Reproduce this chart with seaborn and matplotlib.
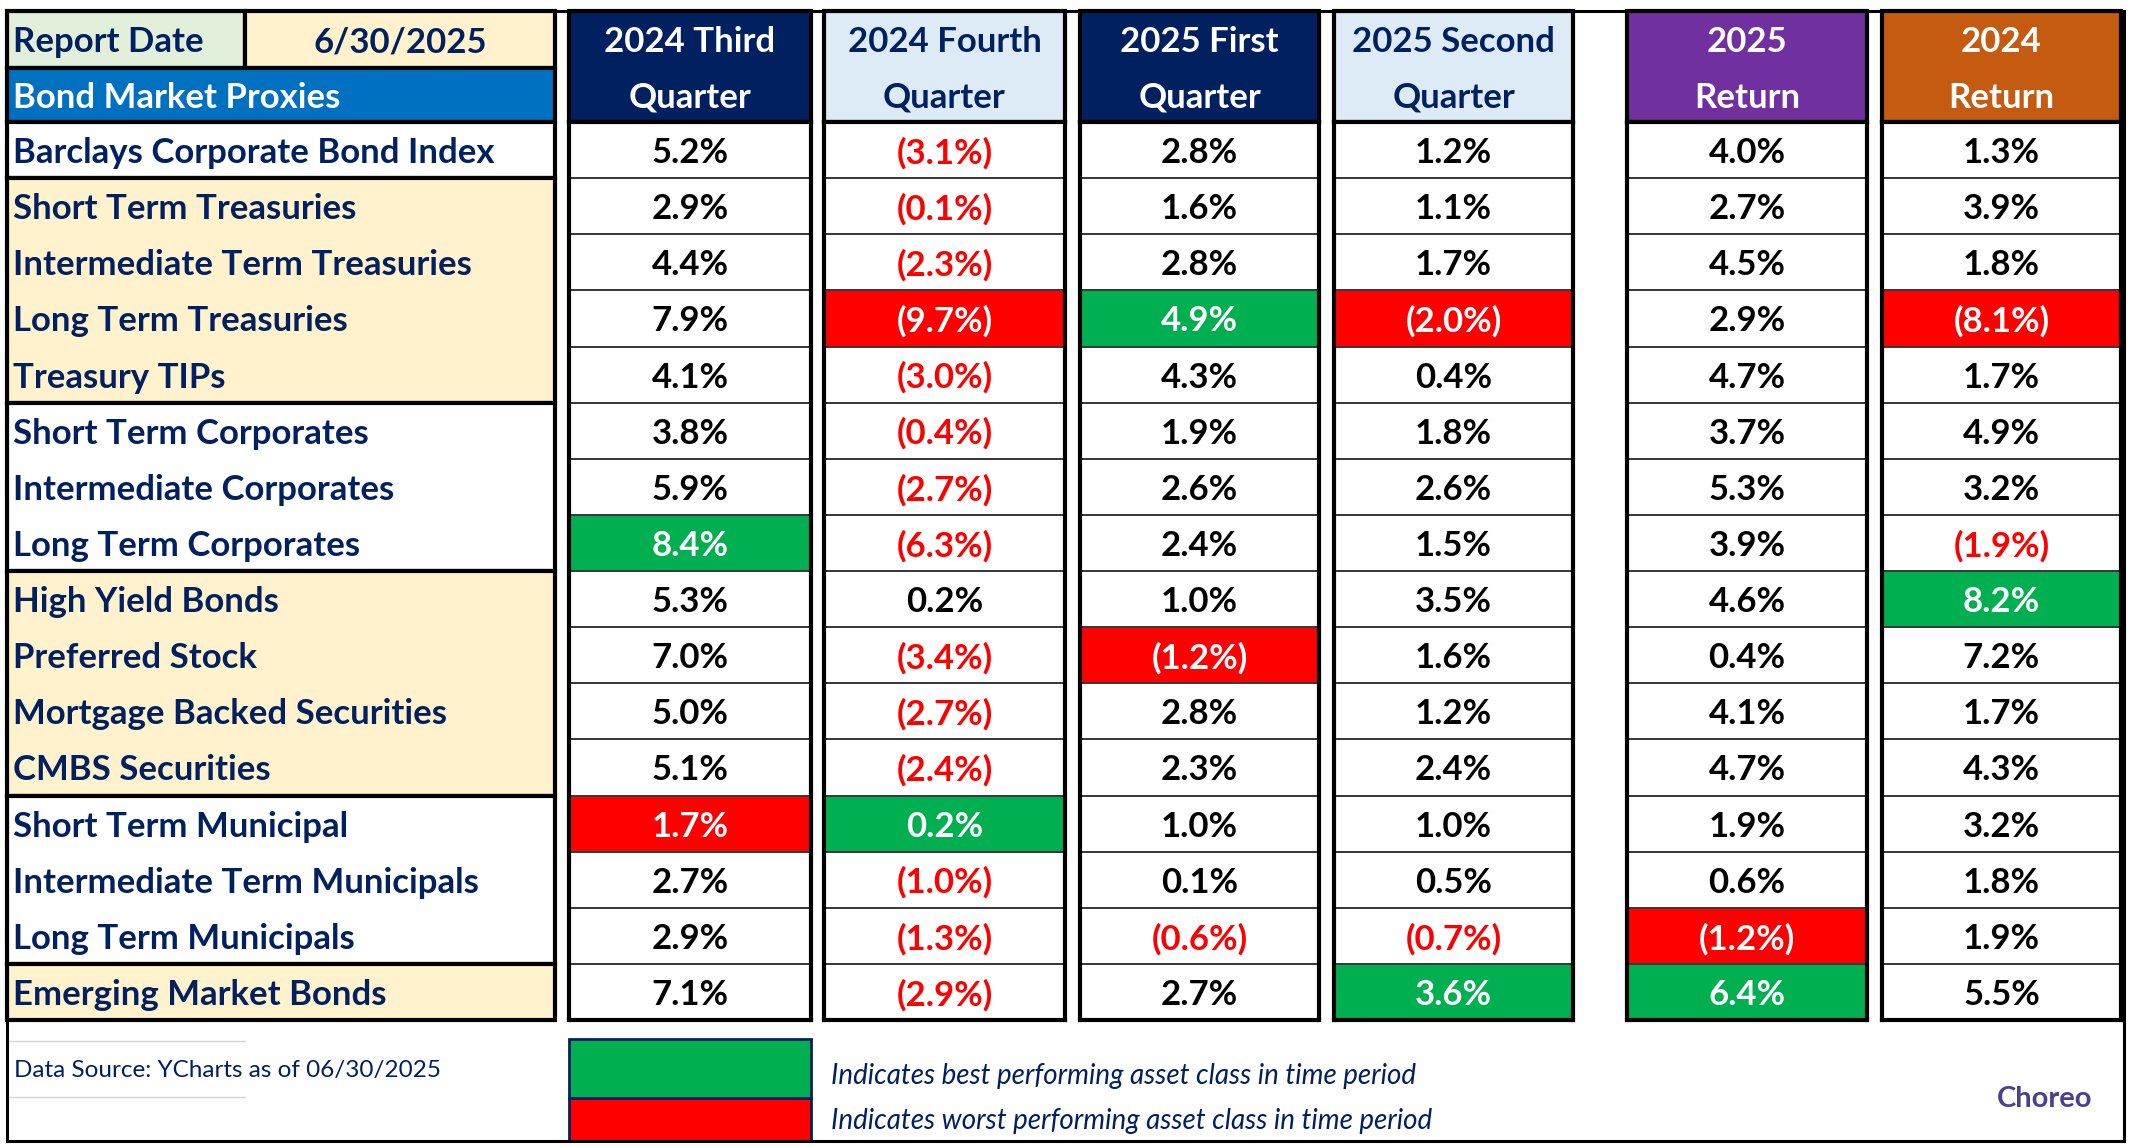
import numpy as np
import pandas as pd
import matplotlib
matplotlib.use("Agg")
import matplotlib.pyplot as plt
from matplotlib.colors import ListedColormap
from matplotlib.patches import Rectangle
import seaborn as sns

# Table content
report_date = "6/30/2025"
proxies = [
    "Barclays Corporate Bond Index",
    "Short Term Treasuries",
    "Intermediate Term Treasuries",
    "Long Term Treasuries",
    "Treasury TIPs",
    "Short Term Corporates",
    "Intermediate Corporates",
    "Long Term Corporates",
    "High Yield Bonds",
    "Preferred Stock",
    "Mortgage Backed Securities",
    "CMBS Securities",
    "Short Term Municipal",
    "Intermediate Term Municipals",
    "Long Term Municipals",
    "Emerging Market Bonds",
]
periods = ["2024 Third\nQuarter", "2024 Fourth\nQuarter", "2025 First\nQuarter",
           "2025 Second\nQuarter", "2025\nReturn", "2024\nReturn"]

q3_2024 = [5.2, 2.9, 4.4, 7.9, 4.1, 3.8, 5.9, 8.4, 5.3, 7.0, 5.0, 5.1, 1.7, 2.7, 2.9, 7.1]
q4_2024 = [-3.1, -0.1, -2.3, -9.7, -3.0, -0.4, -2.7, -6.3, 0.2, -3.4, -2.7, -2.4, 0.2, -1.0, -1.3, -2.9]
q1_2025 = [2.8, 1.6, 2.8, 4.9, 4.3, 1.9, 2.6, 2.4, 1.0, -1.2, 2.8, 2.3, 1.0, 0.1, -0.6, 2.7]
q2_2025 = [1.2, 1.1, 1.7, -2.0, 0.4, 1.8, 2.6, 1.5, 3.5, 1.6, 1.2, 2.4, 1.0, 0.5, -0.7, 3.6]
ret_2025 = [4.0, 2.7, 4.5, 2.9, 4.7, 3.7, 5.3, 3.9, 4.6, 0.4, 4.1, 4.7, 1.9, 0.6, -1.2, 6.4]
ret_2024 = [1.3, 3.9, 1.8, -8.1, 1.7, 4.9, 3.2, -1.9, 8.2, 7.2, 1.7, 4.3, 3.2, 1.8, 1.9, 5.5]

# best / worst row per period (row index into proxies)
best_row = [7, 12, 3, 15, 15, 8]
worst_row = [12, 3, 9, 3, 14, 3]

# label column shading groups: (first row, last row, shaded)
label_groups = [(0, 0, False), (1, 4, True), (5, 7, False),
                (8, 11, True), (12, 14, False), (15, 15, True)]

source_note = "Data Source: YCharts as of 06/30/2025"
legend_best = "Indicates best performing asset class in time period"
legend_worst = "Indicates worst performing asset class in time period"

# Colours
navy = "#002060"
cream = "#FFF2CC"
green = "#00B050"
red = "#FF0000"
header_face = [navy, "#DDEBF7", navy, "#DDEBF7", "#7030A0", "#C55A11"]
header_text = ["white", navy, "white", navy, "white", "white"]

# Layout in pixels
W, H = 2130, 1146
frame_l, frame_r, frame_t, frame_b = 7, 2124, 11, 1141
head_mid, data_top, data_bot = 68, 122, 1020
label_l, label_r, date_split = 7, 555, 245
col_x = [(569, 811), (824, 1065), (1080, 1319), (1334, 1573), (1627, 1867), (1882, 2121)]
row_h = (data_bot - data_top) / len(proxies)

sns.set_style("white")
plt.rcParams["font.family"] = ["Lato", "DejaVu Sans"]

fig = plt.figure(figsize=(W / 100, H / 100), dpi=100)
bg = fig.add_axes([0, 0, 1, 1])
bg.set_xlim(0, W)
bg.set_ylim(H, 0)
bg.axis("off")

lw_thick = 3.0
fs_main = 25
dy = 3  # text sits a touch below the cell centre

# outer frame
bg.add_patch(Rectangle((frame_l, frame_t), frame_r - frame_l, frame_b - frame_t,
                       fill=False, edgecolor="black", lw=2.2, zorder=5))

# report date / proxies header
bg.add_patch(Rectangle((label_l, frame_t), date_split - label_l, head_mid - frame_t,
                       facecolor="#E2EFDA", edgecolor="black", lw=lw_thick))
bg.add_patch(Rectangle((date_split, frame_t), label_r - date_split, head_mid - frame_t,
                       facecolor=cream, edgecolor="black", lw=lw_thick))
bg.add_patch(Rectangle((label_l, head_mid), label_r - label_l, data_top - head_mid,
                       facecolor="#0070C0", edgecolor="black", lw=lw_thick))
bg.text(label_l + 6, (frame_t + head_mid) / 2 + dy, "Report Date", color=navy,
        fontsize=fs_main, fontweight="bold", va="center", ha="left")
bg.text((date_split + label_r) / 2, (frame_t + head_mid) / 2 + dy, report_date, color=navy,
        fontsize=fs_main, fontweight="bold", va="center", ha="center")
bg.text(label_l + 6, (head_mid + data_top) / 2 + dy, "Bond Market Proxies", color="white",
        fontsize=fs_main, fontweight="bold", va="center", ha="left")

# label column groups
for first, last, shaded in label_groups:
    y0 = data_top + first * row_h
    y1 = data_top + (last + 1) * row_h
    bg.add_patch(Rectangle((label_l, y0), label_r - label_l, y1 - y0,
                           facecolor=cream if shaded else "white",
                           edgecolor="black", lw=lw_thick))
for i, name in enumerate(proxies):
    bg.text(label_l + 6, data_top + (i + 0.5) * row_h + dy, name, color=navy,
            fontsize=fs_main, fontweight="bold", va="center", ha="left")

# period headers
for j, (x0, x1) in enumerate(col_x):
    bg.add_patch(Rectangle((x0, frame_t), x1 - x0, data_top - frame_t,
                           facecolor=header_face[j], edgecolor="black", lw=lw_thick))
    top_line, bottom_line = periods[j].split("\n")
    bg.text((x0 + x1) / 2, (frame_t + head_mid) / 2 + dy, top_line, color=header_text[j],
            fontsize=fs_main, fontweight="bold", ha="center", va="center")
    bg.text((x0 + x1) / 2, (head_mid + data_top) / 2 + dy, bottom_line, color=header_text[j],
            fontsize=fs_main, fontweight="bold", ha="center", va="center")

# data columns, one heatmap per period
df = pd.DataFrame({"q3_2024": q3_2024, "q4_2024": q4_2024, "q1_2025": q1_2025,
                   "q2_2025": q2_2025, "ret_2025": ret_2025, "ret_2024": ret_2024},
                  index=proxies)
cmap = ListedColormap(["white", green, red])


def fmt_pct(v):
    return f"{v:.1f}%" if v >= 0 else f"({-v:.1f}%)"


for j, col in enumerate(df.columns):
    vals = df[col].to_numpy()
    code = np.zeros(len(vals))
    code[best_row[j]] = 1
    code[worst_row[j]] = 2
    labels = np.array([[fmt_pct(v)] for v in vals])
    x0, x1 = col_x[j]
    ax = fig.add_axes([x0 / W, 1 - data_bot / H, (x1 - x0) / W, (data_bot - data_top) / H])
    sns.heatmap(code.reshape(-1, 1), cmap=cmap, vmin=-0.5, vmax=2.5, cbar=False,
                annot=labels, fmt="", linewidths=1.3, linecolor="#3a3a3a",
                xticklabels=False, yticklabels=False, ax=ax,
                annot_kws={"fontsize": fs_main, "fontweight": "bold"})
    for t, v, c in zip(ax.texts, vals, code):
        if c > 0:
            t.set_color("white")
        elif v < 0:
            t.set_color(red)
        else:
            t.set_color("black")
        x, y = t.get_position()
        t.set_position((x, y + dy / row_h))
    for s in ax.spines.values():
        s.set_visible(True)
        s.set_linewidth(lw_thick)
        s.set_color("black")

# footer
bg.plot([frame_l, date_split], [1041, 1041], color="#d4d4d4", lw=1)
bg.plot([frame_l, date_split], [1097, 1097], color="#d4d4d4", lw=1)
bg.text(14, 1071, source_note, color=navy, fontsize=17.5, va="center", ha="left")

lx0, lx1 = col_x[0]
bg.add_patch(Rectangle((lx0, 1039), lx1 - lx0, 1098 - 1039, facecolor=green,
                       edgecolor=navy, lw=2))
bg.add_patch(Rectangle((lx0, 1098), lx1 - lx0, 1141 - 1098, facecolor=red,
                       edgecolor=navy, lw=2))
bg.text(lx1 + 20, 1076, legend_best, color=navy, fontsize=20, fontstyle="italic",
        va="center", ha="left")
bg.text(lx1 + 20, 1121, legend_worst, color=navy, fontsize=20, fontstyle="italic",
        va="center", ha="left")
bg.text(2092, 1099, "Choreo", color="#4B3F8F", fontsize=21, fontweight="bold",
        va="center", ha="right")

fig.savefig("out.png", dpi=100, facecolor="white")
